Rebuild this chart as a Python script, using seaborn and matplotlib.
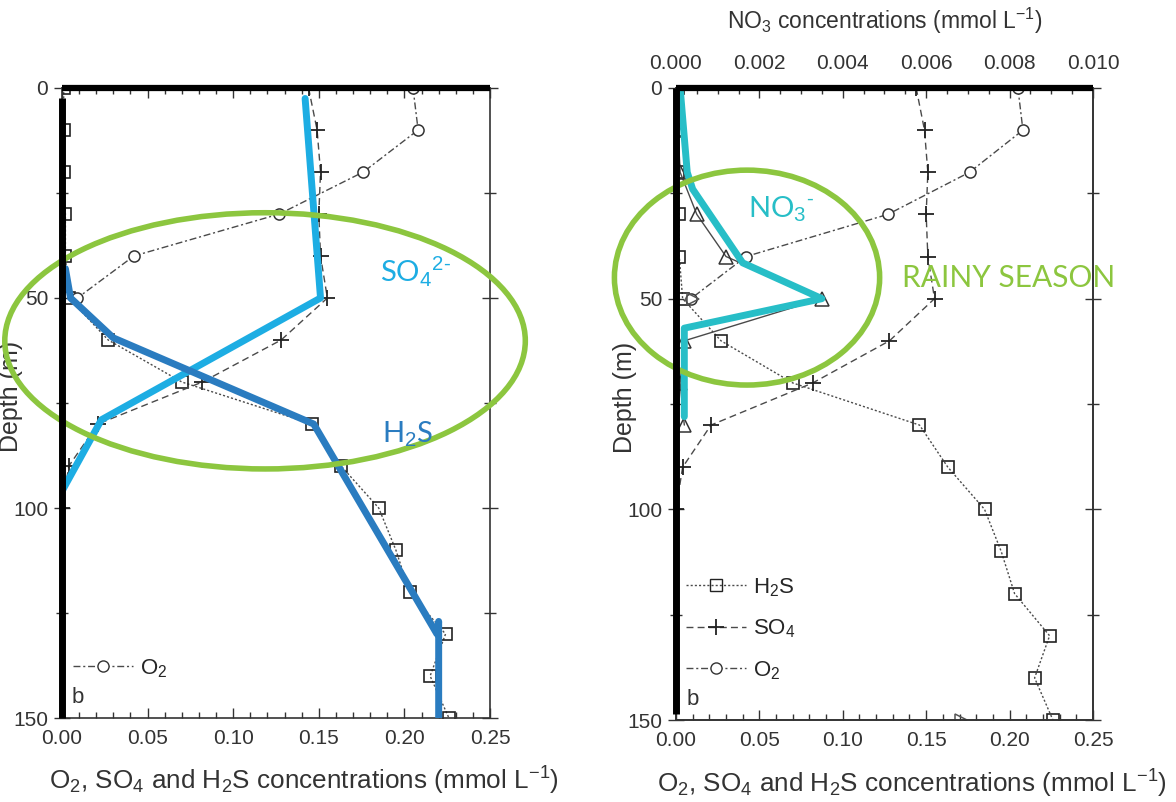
import matplotlib
matplotlib.use("Agg")
import matplotlib.pyplot as plt
import seaborn as sns
from matplotlib.patches import Ellipse
from matplotlib.lines import Line2D
from matplotlib.ticker import MultipleLocator, FormatStrFormatter

sns.set_theme(style="white")
plt.rcParams['font.family'] = ['Liberation Sans', 'DejaVu Sans']
plt.rcParams['mathtext.fontset'] = 'custom'
plt.rcParams['mathtext.rm'] = 'Liberation Sans'
plt.rcParams['mathtext.it'] = 'Liberation Sans:italic'

# ---------------- data (depth in m, concentrations in mmol L-1) ----------------
depth_o2 = [0, 10, 20, 30, 40, 50]
o2 = [0.205, 0.208, 0.176, 0.127, 0.042, 0.009]

depth_so4 = [0, 10, 20, 30, 40, 50, 60, 70, 80, 90, 100]
so4 = [0.144, 0.149, 0.151, 0.150, 0.151, 0.155, 0.128, 0.082, 0.021, 0.004, 0.0]

depth_h2s = [0, 10, 20, 30, 40, 50, 60, 70, 80, 90, 100, 110, 120, 130, 140, 150]
h2s = [0.001, 0.001, 0.001, 0.002, 0.002, 0.004, 0.027, 0.070, 0.146, 0.163,
       0.185, 0.195, 0.203, 0.224, 0.215, 0.226]

depth_no3 = [0, 10, 20, 30, 40, 50, 60, 70, 80]
no3 = [0.0, 0.00005, 0.0001, 0.0005, 0.0012, 0.0035, 0.0002, 0.0001, 0.0002]

depth_tri = [50, 150]
tri = [0.010, 0.171]

# hand-drawn highlight overlays
so4_hl = [0.142, 0.151, 0.023, 0.0]
so4_hl_depth = [2.5, 50, 79, 96]
h2s_hl = [0.002, 0.005, 0.030, 0.147, 0.219, 0.220, 0.220]
h2s_hl_depth = [43, 50, 59.5, 80, 130, 127, 150]
no3_hl = [0.0001, 0.00027, 0.0004, 0.0016, 0.0035, 0.0002, 0.0002]
no3_hl_depth = [0, 20, 24, 41.5, 50, 57, 78]

x_ticks = [0.00, 0.05, 0.10, 0.15, 0.20, 0.25]
no3_ticks = [0.000, 0.002, 0.004, 0.006, 0.008, 0.010]
y_ticks = [0, 50, 100, 150]

GREEN = '#8CC63F'
SO4_BLUE = '#1DADE3'
H2S_BLUE = '#2A7CC0'
NO3_CYAN = '#27BEC7'
GREY = '#4a4a4a'

fig = plt.figure(figsize=(11.76, 8.02), dpi=100)
ax1 = fig.add_axes([0.0527, 0.1047, 0.3640, 0.7856])
ax2 = fig.add_axes([0.5748, 0.1022, 0.3546, 0.7881])

xlabel = r'O$_2$, SO$_4$ and H$_2$S concentrations (mmol L$^{-1}$)'
TFS = 15
LBL = ['Lato', 'DejaVu Sans']


def base_series(ax):
    sns.lineplot(x=h2s, y=depth_h2s, ax=ax, sort=False, estimator=None, color=GREY,
                 lw=1.0, linestyle=(0, (1.5, 1.5)), marker='s', markersize=9,
                 markerfacecolor='none', markeredgecolor='#222', markeredgewidth=1.2,
                 legend=False)
    sns.lineplot(x=so4, y=depth_so4, ax=ax, sort=False, estimator=None, color=GREY,
                 lw=1.0, linestyle=(0, (5, 3)), marker='+', markersize=11,
                 markeredgecolor='#222', markeredgewidth=1.3, legend=False)
    sns.lineplot(x=o2, y=depth_o2, ax=ax, sort=False, estimator=None, color=GREY,
                 lw=1.0, linestyle=(0, (5, 2, 1.5, 2)), marker='o', markersize=8,
                 markerfacecolor='white', markeredgecolor='#333', markeredgewidth=1.1,
                 legend=False)


def style_axes(ax, ylab_x, xlab_x):
    ax.set_xlim(0, 0.25)
    ax.set_ylim(150, 0)
    ax.set_xticks(x_ticks)
    ax.xaxis.set_major_formatter(FormatStrFormatter('%.2f'))
    ax.xaxis.set_minor_locator(MultipleLocator(0.01))
    ax.set_yticks(y_ticks)
    ax.yaxis.set_minor_locator(MultipleLocator(25))
    ax.tick_params(axis='x', which='both', direction='in', top=True, bottom=True,
                   labelsize=TFS, colors='#333', pad=8)
    ax.tick_params(axis='x', which='major', length=7, width=1)
    ax.tick_params(axis='x', which='minor', length=4, width=1)
    ax.tick_params(axis='y', which='both', direction='inout', left=True, right=True,
                   labelsize=TFS, colors='#333', pad=4)
    ax.tick_params(axis='y', which='major', length=12, width=1)
    ax.tick_params(axis='y', which='minor', length=8, width=1)
    for s in ax.spines.values():
        s.set_color('#333')
        s.set_linewidth(1.2)
    ax.set_xlabel(xlabel, fontsize=18.8, color='#333')
    ax.xaxis.set_label_coords(xlab_x, -0.075)
    ax.set_ylabel('Depth (m)', fontsize=18, color='#333')
    ax.yaxis.set_label_coords(ylab_x, 0.51)


def legend_handles():
    h_h2s = Line2D([], [], color=GREY, lw=1.0, linestyle=(0, (1.5, 1.5)), marker='s',
                   markersize=9, markerfacecolor='none', markeredgecolor='#222')
    h_so4 = Line2D([], [], color=GREY, lw=1.0, linestyle=(0, (5, 3)), marker='+',
                   markersize=11, markeredgecolor='#222', markeredgewidth=1.3)
    h_o2 = Line2D([], [], color=GREY, lw=1.0, linestyle=(0, (5, 2, 1.5, 2)), marker='o',
                  markersize=8, markerfacecolor='white', markeredgecolor='#333')
    return h_h2s, h_so4, h_o2


# ---------------- left panel ----------------
base_series(ax1)
style_axes(ax1, -0.091, 0.565)
sns.lineplot(x=so4_hl, y=so4_hl_depth, ax=ax1, sort=False, estimator=None,
             color=SO4_BLUE, lw=5, legend=False, zorder=5)
sns.lineplot(x=h2s_hl, y=h2s_hl_depth, ax=ax1, sort=False, estimator=None,
             color=H2S_BLUE, lw=5, legend=False, zorder=5)
ax1.add_patch(Ellipse((0.1186, 60.2), 0.304, 61, fill=False, ec=GREEN, lw=4,
                      clip_on=False, zorder=6))
ax1.plot([0, 0], [2.5, 150], color='black', lw=5, clip_on=False, zorder=7,
         solid_capstyle='butt')
ax1.plot([0, 0.25], [0, 0], color='black', lw=4.5, clip_on=False, zorder=7,
         solid_capstyle='butt')
ax1.text(0.186, 43.5, r'SO$_4$$^{2\text{-}}$', color=SO4_BLUE, fontsize=21,
         family=LBL, va='center', ha='left', zorder=8)
ax1.text(0.187, 82.5, r'H$_2$S', color=H2S_BLUE, fontsize=21,
         family=LBL, va='center', ha='left', zorder=8)
h_h2s, h_so4, h_o2 = legend_handles()
ax1.legend([h_o2], [r'O$_2$'], loc='lower left', bbox_to_anchor=(-0.021, 0.029),
           frameon=False, fontsize=16, handlelength=2.7, handletextpad=0.3)
ax1.text(0.023, 0.016, 'b', transform=ax1.transAxes, fontsize=16, color='#333',
         va='bottom', ha='left')

# ---------------- right panel ----------------
base_series(ax2)
style_axes(ax2, -0.094, 0.566)
ax2.plot(tri, depth_tri, linestyle='none', marker='>', markersize=9,
         markerfacecolor='none', markeredgecolor='#555', markeredgewidth=1.1)
axt = ax2.twiny()
axt.set_xlim(0, 0.010)
sns.lineplot(x=no3, y=depth_no3, ax=axt, sort=False, estimator=None, color=GREY,
             lw=1.0, marker='^', markersize=10, markerfacecolor='none',
             markeredgecolor='#333', markeredgewidth=1.1, legend=False)
sns.lineplot(x=no3_hl, y=no3_hl_depth, ax=axt, sort=False, estimator=None,
             color=NO3_CYAN, lw=5, legend=False, zorder=5)
axt.set_ylim(150, 0)
axt.set_xticks(no3_ticks)
axt.xaxis.set_major_formatter(FormatStrFormatter('%.3f'))
axt.xaxis.set_minor_locator(MultipleLocator(0.0005))
axt.tick_params(axis='x', which='both', direction='in', labelsize=TFS, colors='#333',
                pad=11)
axt.tick_params(axis='x', which='major', length=7, width=1)
axt.tick_params(axis='x', which='minor', length=4, width=1)
axt.set_xlabel(r'NO$_3$ concentrations (mmol L$^{-1}$)', fontsize=16.5, color='#333',
               labelpad=18)
axt.set_ylabel('')
for s in axt.spines.values():
    s.set_color('#333')
    s.set_linewidth(1.2)

axt.add_patch(Ellipse((0.0426 * 0.04, 45), 0.159 * 0.04, 51, fill=False, ec=GREEN,
                      lw=4, clip_on=False, zorder=6))
axt.plot([0, 0], [0, 148.5], color='black', lw=5, clip_on=False, zorder=7,
         solid_capstyle='butt')
axt.plot([0, 0.010], [0, 0], color='black', lw=4.5, clip_on=False, zorder=7,
         solid_capstyle='butt')
axt.text(0.00173, 28.7, r'NO$_3$$^{\text{-}}$', color=NO3_CYAN, fontsize=21,
         family=LBL, va='center', ha='left', zorder=8)
axt.text(0.00542, 45, 'RAINY SEASON', color=GREEN, fontsize=21.5,
         family=LBL, va='center', ha='left', zorder=8)

axt.legend([h_h2s, h_so4, h_o2], [r'H$_2$S', r'SO$_4$', r'O$_2$'], loc='lower left',
           bbox_to_anchor=(-0.024, 0.029), frameon=False, fontsize=16, handlelength=2.7,
           handletextpad=0.3, labelspacing=0.85)
ax2.text(0.025, 0.016, 'b', transform=ax2.transAxes, fontsize=16, color='#333',
         va='bottom', ha='left')

fig.savefig('out.png', dpi=100)
